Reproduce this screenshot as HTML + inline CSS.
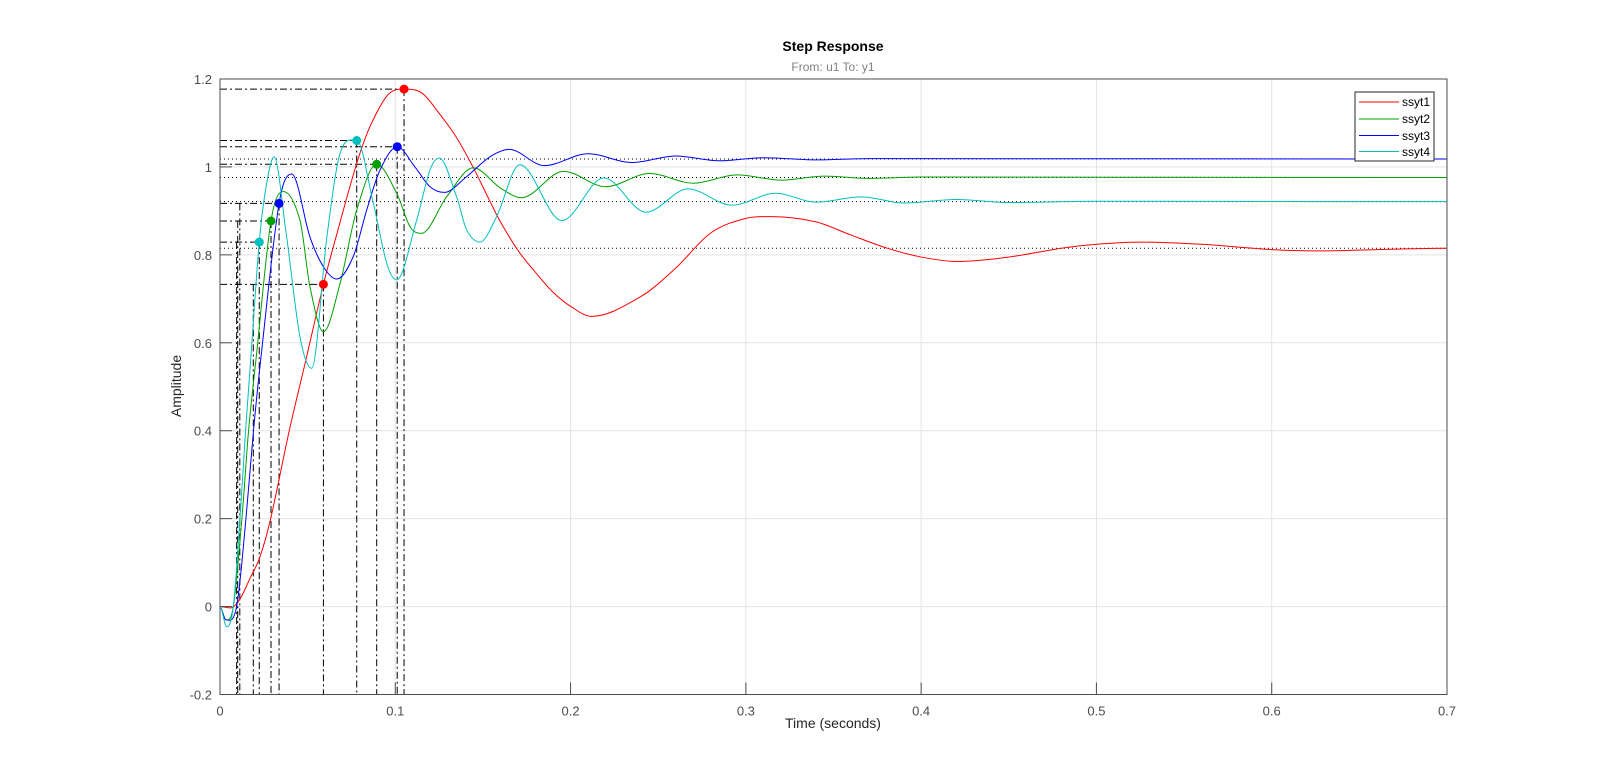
<!DOCTYPE html>
<html>
<head>
<meta charset="utf-8">
<style>
html,body{margin:0;padding:0;background:#fff;}
svg{display:block;font-family:"Liberation Sans",Arial,sans-serif;}
</style>
</head>
<body>
<svg id="chart" width="1600" height="782" viewBox="0 0 1600 782">
  <rect x="0" y="0" width="1600" height="782" fill="#fff"/>
  <rect x="220" y="79" width="1227" height="615.5" fill="#fff"/>
  <g id="grid"></g>
  <g id="guides"></g>
  <g id="series"></g>
  <g id="marks"></g>
  <rect x="220" y="79" width="1227" height="615.5" fill="none" stroke="#4d4d4d" stroke-width="1"/>
  <g id="ticks"></g>
  <text x="833" y="51" text-anchor="middle" font-size="14" font-weight="bold" fill="#000">Step Response</text>
  <text x="833" y="71" text-anchor="middle" font-size="12" fill="#808080">From: u1  To: y1</text>
  <text x="833" y="728" text-anchor="middle" font-size="14" fill="#262626">Time (seconds)</text>
  <text x="0" y="0" transform="translate(181,386) rotate(-90)" text-anchor="middle" font-size="14" fill="#262626">Amplitude</text>
  <g>
    <rect x="1355" y="92" width="79" height="69" fill="#fff" stroke="#262626" stroke-width="1"/>
    <line x1="1359" y1="102" x2="1399" y2="102" stroke="#ff0000"/>
    <text x="1402" y="106" font-size="12" fill="#000">ssyt1</text>
    <line x1="1359" y1="119" x2="1399" y2="119" stroke="#00a000"/>
    <text x="1402" y="123" font-size="12" fill="#000">ssyt2</text>
    <line x1="1359" y1="135.5" x2="1399" y2="135.5" stroke="#0000ff"/>
    <text x="1402" y="140" font-size="12" fill="#000">ssyt3</text>
    <line x1="1359" y1="151.5" x2="1399" y2="151.5" stroke="#00bfbf"/>
    <text x="1402" y="156" font-size="12" fill="#000">ssyt4</text>
  </g>
</svg>
<script>
// ---- data ----
const xTicks = [0, 0.1, 0.2, 0.3, 0.4, 0.5, 0.6, 0.7];
const xTickLabels = ["0", "0.1", "0.2", "0.3", "0.4", "0.5", "0.6", "0.7"];
const yTicks = [-0.2, 0, 0.2, 0.4, 0.6, 0.8, 1, 1.2];
const yTickLabels = ["-0.2", "0", "0.2", "0.4", "0.6", "0.8", "1", "1.2"];

const seriesNames = ["ssyt1", "ssyt2", "ssyt3", "ssyt4"];
const seriesColors = ["#ff0000", "#00a000", "#0000ff", "#00bfbf"];

const t1 = [0,.006,.0114,.0171,.0228,.0289,.0395,.049,.059,.066,.078,.0856,.0958,.105,.1152,.125,.1346,.1443,.1546,.16,.17,.18,.19,.2,.212,.24,.26,.28,.3,.315,.34,.36,.38,.4,.42,.45,.48,.5,.525,.56,.6,.63,.66,.7];
const v1 = [0,-.003,.017,.064,.113,.2,.4,.561,.733,.838,1.008,1.092,1.164,1.177,1.168,1.122,1.069,1.0,.917,.875,.81,.76,.715,.683,.66,.705,.77,.85,.883,.887,.875,.845,.816,.795,.785,.795,.815,.824,.829,.824,.812,.809,.812,.815];

const t2 = [0,.0033,.0076,.0125,.0163,.0205,.0291,.0361,.0456,.0513,.059,.0685,.078,.0894,.1008,.1084,.115,.1293,.1445,.16,.172,.196,.22,.245,.27,.295,.32,.345,.37,.4,.7];
const v2 = [0,-.03,0,.2,.4,.561,.877,.944,.879,.728,.625,.735,.902,1.006,.94,.864,.849,.932,.998,.952,.93,.99,.955,.985,.963,.982,.97,.979,.974,.977,.976];

const t3 = [0,.0033,.0095,.0148,.0191,.0232,.0337,.0409,.0513,.059,.0666,.076,.0837,.0913,.1011,.1112,.1198,.128,.1407,.154,.165,.185,.21,.235,.26,.285,.31,.34,.37,.7];
const v3 = [0,-.03,0,.2,.4,.561,.917,.984,.841,.773,.745,.796,.902,.993,1.046,1.0,.955,.942,.978,1.023,1.04,1.003,1.03,1.01,1.025,1.014,1.021,1.016,1.019,1.018];

const t4 = [0,.0038,.0076,.0114,.0146,.0175,.0224,.0265,.0308,.038,.0456,.0523,.061,.0685,.078,.0875,.0951,.1008,.1122,.1198,.1251,.135,.1407,.1483,.1578,.171,.195,.219,.243,.267,.292,.317,.34,.366,.39,.42,.45,.5,.7];
const v4 = [0,-.046,0,.2,.4,.561,.829,.96,1.023,.841,.614,.542,.841,1.031,1.06,.917,.781,.743,.879,.993,1.02,.932,.857,.829,.887,1.005,.878,.975,.897,.95,.913,.94,.92,.932,.918,.926,.919,.922,.921];

const finalValues = [0.815, 0.976, 1.018, 0.921];
const riseHighT = [0.059, 0.0291, 0.0337, 0.0224];
const riseHighV = [0.733, 0.877, 0.917, 0.829];
const riseLowT = [0.019, 0.0101, 0.0113, 0.0095];
const peakT = [0.105, 0.0894, 0.1011, 0.078];
const peakV = [1.177, 1.006, 1.046, 1.06];

// ---- axes ----
const X0 = 220, X1 = 1447, Y0 = 694.5, Y1 = 79;
const xMin = 0, xMax = 0.7, yMin = -0.2, yMax = 1.2;
function xs(t){ return X0 + (t - xMin) / (xMax - xMin) * (X1 - X0); }
function ys(v){ return Y0 - (v - yMin) / (yMax - yMin) * (Y0 - Y1); }

const NS = "http://www.w3.org/2000/svg";
function mk(tag, parent){ const e = document.createElementNS(NS, tag); parent.appendChild(e); return e; }

const grid = document.getElementById("grid");
const ticks = document.getElementById("ticks");
xTicks.forEach((t, i) => {
  const g = mk("line", grid);
  g.setAttribute("x1", xs(t)); g.setAttribute("x2", xs(t));
  g.setAttribute("y1", Y1); g.setAttribute("y2", Y0);
  g.setAttribute("stroke", "#e3e3e3");
  
  
  const tk = mk("line", ticks);
  tk.setAttribute("x1", xs(t)); tk.setAttribute("x2", xs(t));
  tk.setAttribute("y1", Y0); tk.setAttribute("y2", Y0 - 12);
  tk.setAttribute("stroke", "#4d4d4d");
  
  
  const lb = mk("text", ticks);
  lb.setAttribute("x", xs(t)); lb.setAttribute("y", Y0 + 21);
  lb.setAttribute("text-anchor", "middle");
  lb.setAttribute("font-size", "13"); lb.setAttribute("fill", "#4d4d4d");
  lb.textContent = xTickLabels[i];
  
  
});
yTicks.forEach((v, i) => {
  const g = mk("line", grid);
  g.setAttribute("x1", X0); g.setAttribute("x2", X1);
  g.setAttribute("y1", ys(v)); g.setAttribute("y2", ys(v));
  g.setAttribute("stroke", "#e3e3e3");
  
  
  const tk = mk("line", ticks);
  tk.setAttribute("x1", X0); tk.setAttribute("x2", X0 + 12);
  tk.setAttribute("y1", ys(v)); tk.setAttribute("y2", ys(v));
  tk.setAttribute("stroke", "#4d4d4d");
  
  
  const lb = mk("text", ticks);
  lb.setAttribute("x", X0 - 8); lb.setAttribute("y", ys(v) + 5);
  lb.setAttribute("text-anchor", "end");
  lb.setAttribute("font-size", "13"); lb.setAttribute("fill", "#4d4d4d");
  lb.textContent = yTickLabels[i];
  
  
});

// ---- guides ----
const guides = document.getElementById("guides");
function guide(x1, y1, x2, y2, dash, name){
  const l = mk("line", guides);
  l.setAttribute("x1", x1); l.setAttribute("y1", y1);
  l.setAttribute("x2", x2); l.setAttribute("y2", y2);
  l.setAttribute("stroke", "#000"); l.setAttribute("stroke-width", "1");
  l.setAttribute("stroke-dasharray", dash);
  
  
}
for (let i = 0; i < 4; i++) {
  guide(X0, ys(finalValues[i]), X1, ys(finalValues[i]), "1,3", "steady-state-line");
  guide(X0, ys(riseHighV[i]), xs(riseHighT[i]), ys(riseHighV[i]), "7,3,2,3", "rise-time-h-line");
  guide(xs(riseHighT[i]), ys(riseHighV[i]), xs(riseHighT[i]), Y0, "7,3,2,3", "rise-time-v-line");
  guide(xs(riseLowT[i]), ys(riseHighV[i]), xs(riseLowT[i]), Y0, "7,3,2,3", "rise-start-v-line");
  guide(X0, ys(peakV[i]), xs(peakT[i]), ys(peakV[i]), "7,3,2,3", "peak-h-line");
  guide(xs(peakT[i]), ys(peakV[i]), xs(peakT[i]), Y0, "7,3,2,3", "peak-v-line");
}

// ---- series ----
const seriesT = [t1, t2, t3, t4];
const seriesV = [v1, v2, v3, v4];
function pathFor(T, V){
  const n = T.length, m = [];
  for (let i = 0; i < n; i++) {
    if (i === 0 || i === n - 1) { m.push(0); continue; }
    const a = V[i] - V[i-1], b = V[i+1] - V[i];
    if (a * b <= 0) m.push(0);
    else m.push((V[i+1] - V[i-1]) / (T[i+1] - T[i-1]));
  }
  let d = "M" + xs(T[0]).toFixed(2) + "," + ys(V[0]).toFixed(2);
  for (let i = 0; i < n - 1; i++) {
    const dt = T[i+1] - T[i];
    const c1t = T[i] + dt / 3, c1v = V[i] + m[i] * dt / 3;
    const c2t = T[i+1] - dt / 3, c2v = V[i+1] - m[i+1] * dt / 3;
    d += " C" + xs(c1t).toFixed(2) + "," + ys(c1v).toFixed(2) + " " +
         xs(c2t).toFixed(2) + "," + ys(c2v).toFixed(2) + " " +
         xs(T[i+1]).toFixed(2) + "," + ys(V[i+1]).toFixed(2);
  }
  return d;
}
const sg = document.getElementById("series");
for (let i = 0; i < 4; i++) {
  const p = mk("path", sg);
  p.setAttribute("d", pathFor(seriesT[i], seriesV[i]));
  p.setAttribute("fill", "none");
  p.setAttribute("stroke", seriesColors[i]);
  p.setAttribute("stroke-width", "1");
  
  
}
const mg = document.getElementById("marks");
for (let i = 0; i < 4; i++) {
  const c1 = mk("circle", mg);
  c1.setAttribute("cx", xs(riseHighT[i])); c1.setAttribute("cy", ys(riseHighV[i]));
  c1.setAttribute("r", "4.5"); c1.setAttribute("fill", seriesColors[i]);
  
  
  const c2 = mk("circle", mg);
  c2.setAttribute("cx", xs(peakT[i])); c2.setAttribute("cy", ys(peakV[i]));
  c2.setAttribute("r", "4.5"); c2.setAttribute("fill", seriesColors[i]);
  
  
}
</script>
</body>
</html>
